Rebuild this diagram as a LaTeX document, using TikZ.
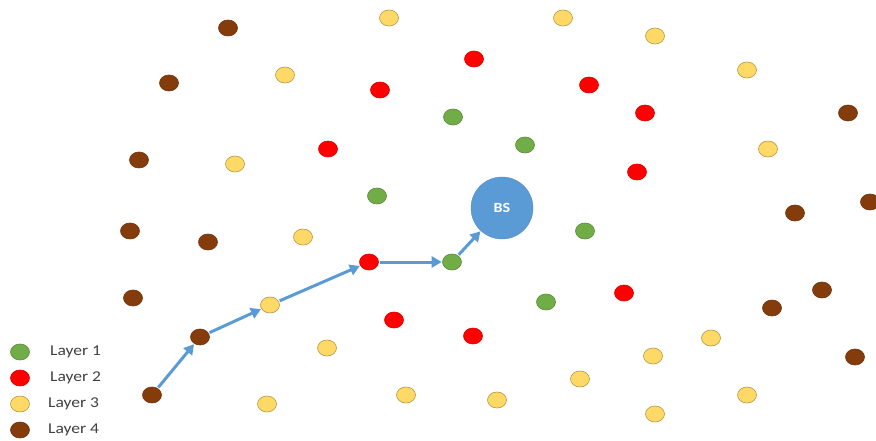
\documentclass[tikz,border=0pt]{standalone}
\usepackage{fontspec}
\setmainfont{Carlito}
\usetikzlibrary{arrows.meta,shapes.geometric}
\definecolor{cg}{HTML}{70AD47}
\definecolor{cr}{HTML}{FF0000}
\definecolor{cy}{HTML}{FFD966}
\definecolor{cb}{HTML}{843C0C}
\definecolor{cblue}{HTML}{5B9BD5}
\definecolor{ctext}{HTML}{404040}
\tikzset{
  dotbase/.style={ellipse, minimum width=19pt, minimum height=16pt, inner sep=0pt, line width=0.6pt},
  dotgreen/.style={dotbase, fill=cg, draw=cg!80!black},
  dotred/.style={dotbase, fill=cr, draw=cr!85!black},
  dotyellow/.style={dotbase, fill=cy, draw=cy!70!black},
  dotbrown/.style={dotbase, fill=cb, draw=cb!85!black},
  arr/.style={draw=cblue, line width=3pt, -{Triangle[length=10pt,width=11pt]}, shorten >=0.5pt, shorten <=1pt},
  legtext/.style={anchor=west, text=ctext, font=\fontsize{15}{17}\selectfont, inner sep=0pt}
}
\newcommand{\wideit}[1]{\scalebox{1.17}[1]{#1}}
\begin{document}
\begin{tikzpicture}[x=1pt,y=-1pt]
\useasboundingbox (0,0) rectangle (876,441);
% BS
\node[circle, fill=cblue, draw=cblue!90!black, minimum size=62pt, inner sep=0pt, text=white, font=\bfseries\fontsize{14}{16}\selectfont] (bs) at (502,208) {\scalebox{1.15}[1]{BS}};
% brown
\foreach \x/\yy [count=\i] in {228/28,169/83,139/160,130/231,208/242,133/298,848/113,795/213,870/202,822/290,772/308,855/357}
  \node[dotbrown] (b\i) at (\x,\yy) {};
\node[dotbrown] (p1) at (152,395) {};
\node[dotbrown] (p2) at (200,337) {};
% yellow
\foreach \x/\yy [count=\i] in {389/18,563/18,655/36,285/75,747/70,235/164,768/149,303/237,327/348,653/356,711/338,580/379,406/395,497/400,267/404,655/414,747/395}
  \node[dotyellow] (y\i) at (\x,\yy) {};
\node[dotyellow] (p3) at (270,305) {};
% red
\foreach \x/\yy [count=\i] in {474/59,380/90,589/85,645/113,328/149,637/172,624/293,394/320,473/336}
  \node[dotred] (r\i) at (\x,\yy) {};
\node[dotred] (p4) at (369,262) {};
% green
\foreach \x/\yy [count=\i] in {453/117,525/145,377/196,585/231,546/302}
  \node[dotgreen] (g\i) at (\x,\yy) {};
\node[dotgreen] (p5) at (452,262) {};
% path
\draw[arr] (p1) -- (p2);
\draw[arr] (p2) -- (p3);
\draw[arr] (p3) -- (p4);
\draw[arr] (p4) -- (p5);
\draw[arr] (p5) -- (bs);
% legend
\node[dotgreen] (l1) at (20,352) {};
\node[dotred] (l2) at (20,378) {};
\node[dotyellow] (l3) at (20,404) {};
\node[dotbrown] (l4) at (20,430) {};
\node[legtext] (t1) at (50,352) {\wideit{Layer 1}};
\node[legtext] (t2) at (50,378) {\wideit{Layer 2}};
\node[legtext] (t3) at (48,404) {\wideit{Layer 3}};
\node[legtext] (t4) at (48,430) {\wideit{Layer 4}};
\end{tikzpicture}
\end{document}
